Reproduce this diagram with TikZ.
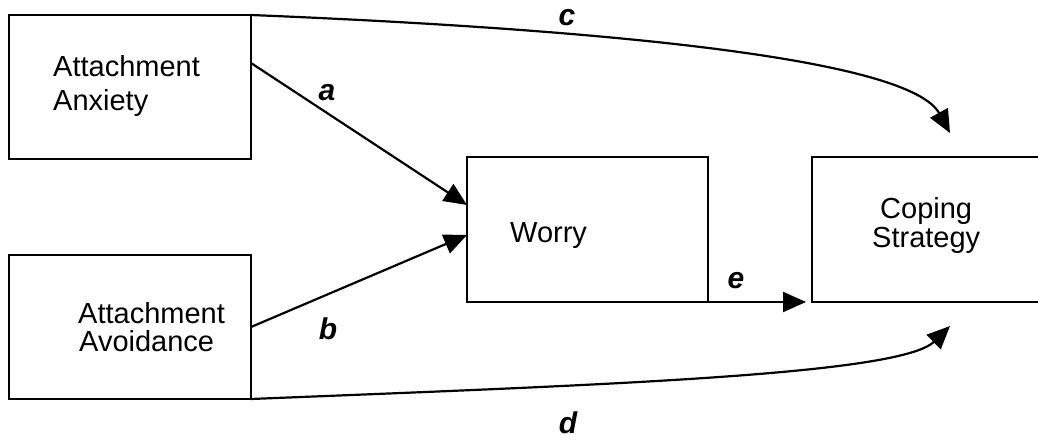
\documentclass[tikz,border=0pt]{standalone}
\usepackage{fontspec}
\setmainfont{Liberation Sans}
\usetikzlibrary{arrows.meta,calc}
\begin{document}
\begin{tikzpicture}[x=1pt,y=-1pt,
  box/.style={draw,line width=1.9pt,rectangle,inner sep=0pt,outer sep=0pt},
  txt/.style={anchor=base west,inner sep=0pt,font=\fontsize{29pt}{35pt}\selectfont},
  lbl/.style={anchor=base,inner sep=0pt,font=\fontsize{30pt}{35pt}\selectfont\bfseries\itshape},
  conn/.style={line width=2.2pt,-{Triangle[length=23pt,width=20pt]}}]
\useasboundingbox (0,0) rectangle (1038,439);
\clip (0,0) rectangle (1038,439);
\fill[white] (0,0) rectangle (1038,439);
% boxes
\node[box,minimum width=242pt,minimum height=144pt] (anx) at (130,87) {};
\node[box,minimum width=242pt,minimum height=144pt] (avo) at (130,327) {};
\node[box,minimum width=241pt,minimum height=145pt] (worry) at (587.5,229.5) {};
\node[box,minimum width=240pt,minimum height=145pt] (cope) at (932,229.5) {};
% texts
\node[txt] (t1) at (53,76) {Attachment};
\node[txt] (t2) at (53,110) {Anxiety};
\node[txt] (t3) at (78,323) {Attachment};
\node[txt] (t4) at (79,351) {Avoidance};
\node[txt] (t5) at (510,242) {Worry};
\node[txt] (t6) at (880,218) {Coping};
\node[txt] (t7) at (872,247) {Strategy};
% connectors
\coordinate (aS) at ([yshift=-48pt]anx.north east);
\coordinate (aE) at ([yshift=-48pt]worry.north west);
\coordinate (bS) at ([yshift=-72pt]avo.north east);
\coordinate (bE) at ([yshift=-78pt]worry.north west);
\coordinate (cE) at (950,133);
\coordinate (dE) at (950,326);
\coordinate (eE) at ([xshift=-6pt]cope.south west);
\draw[conn] (aS) -- (aE);
\draw[conn] (bS) -- (bE);
\draw[conn] (anx.north east) .. controls (620,30) and (910,60) .. (cE);
\draw[conn] (avo.south east) .. controls (600,385) and (900,375) .. (dE);
\draw[conn] (worry.south east) -- (eE);
% labels
\node[lbl] (la) at (327,100) {a};
\node[lbl] (lb) at (328,339) {b};
\node[lbl] (lc) at (567,25) {c};
\node[lbl] (ld) at (568,433) {d};
\node[lbl] (le) at (736,288) {e};
\end{tikzpicture}
\end{document}
